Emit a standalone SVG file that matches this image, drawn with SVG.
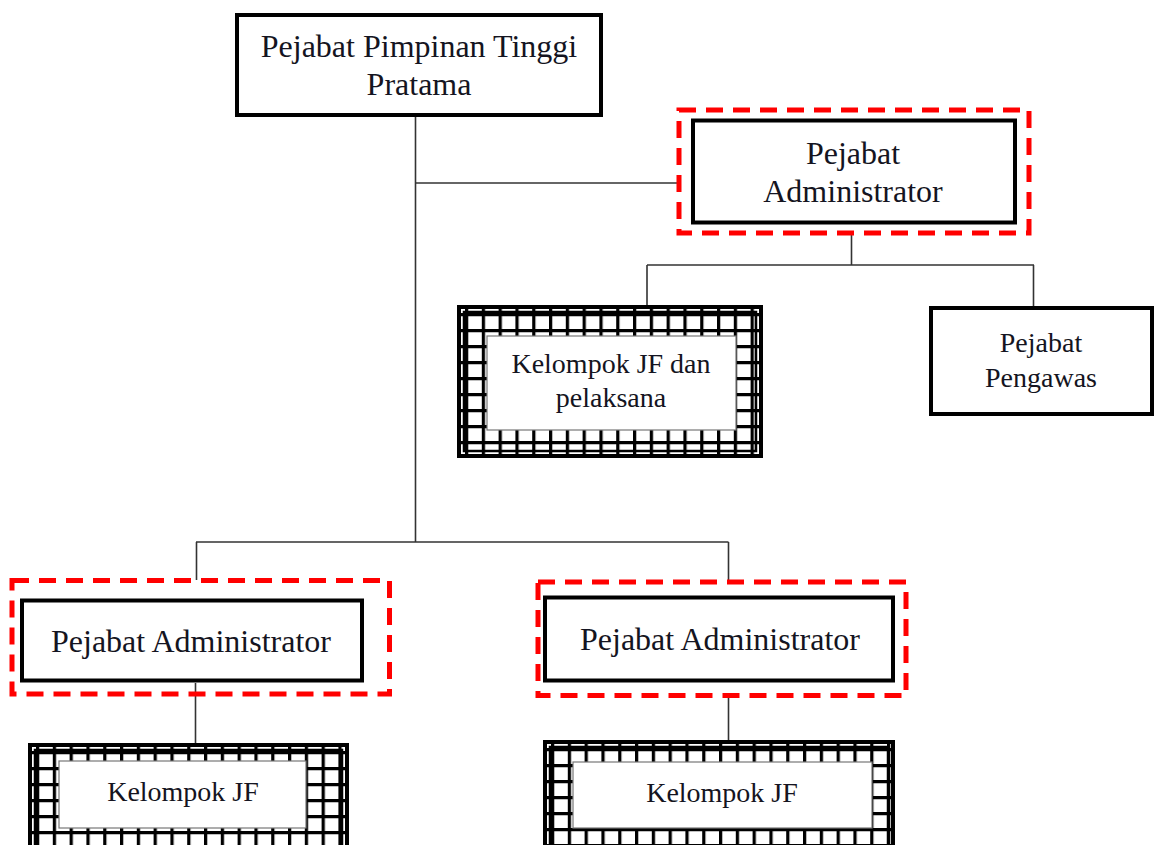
<svg xmlns="http://www.w3.org/2000/svg" width="1155" height="845" viewBox="0 0 1155 845">
<style>
.box{fill:#fff;stroke:#000;stroke-width:4}
.dash{fill:none;stroke:#ff0000;stroke-width:5;stroke-dasharray:17 10}
.conn{fill:none;stroke:#333;stroke-width:1.6}
.t{font-family:"Liberation Serif","Times New Roman",serif;fill:#141421;text-anchor:middle}
.big{font-size:32px}
.mid{font-size:28px}
.gridfill{fill:url(#grid);stroke:#000;stroke-width:4}
.gridin{fill:none;stroke:#000;stroke-width:2.5}
.white{fill:#fff;stroke:#777;stroke-width:1.2}
</style>
<defs>
<pattern id="grid" patternUnits="userSpaceOnUse" x="6" y="6" width="16.8" height="16" >
<rect width="16.8" height="16" fill="#fff"/>
<path d="M1.5 0V16M0 1.5H16.8" stroke="#000" stroke-width="3.5"/>
</pattern>
</defs>
<g id="connectors">
<path class="conn" d="M415.5 115V542"/>
<path class="conn" d="M415.5 183H677"/>
<path class="conn" d="M851.5 235V265M647 265H1034M647 265V306M1033.5 265V306"/>
<path class="conn" d="M196 542H728.5M196.5 542V580M728.5 542V582"/>
<path class="conn" d="M195.5 683V745"/>
<path class="conn" d="M728.5 696V740"/>
</g>
<g id="n_top">
<rect class="box" x="237" y="15" width="364" height="100"/>
<text class="t big" x="419" y="57">Pejabat Pimpinan Tinggi</text>
<text class="t big" x="419" y="95">Pratama</text>
</g>
<g id="n_admin_top">
<rect class="dash" x="679" y="110" width="350" height="123"/>
<rect class="box" x="693" y="120.5" width="322" height="102"/>
<text class="t big" x="853" y="164">Pejabat</text>
<text class="t big" x="853" y="202">Administrator</text>
</g>
<g id="n_jf_pelaksana" transform="translate(459,307)">
<rect class="gridfill" x="0" y="0" width="302" height="149"/>
<rect class="gridin" x="5" y="5" width="292" height="139"/>
<rect class="white" x="28" y="29" width="249" height="94"/>
<text class="t mid" x="152" y="66">Kelompok JF dan</text>
<text class="t mid" x="152" y="100">pelaksana</text>
</g>
<g id="n_pengawas">
<rect class="box" x="931" y="308" width="221" height="106"/>
<text class="t mid" x="1041" y="352">Pejabat</text>
<text class="t mid" x="1041" y="387">Pengawas</text>
</g>
<g id="n_admin_left">
<rect class="dash" x="12" y="580.5" width="377.5" height="113.5"/>
<rect class="box" x="22" y="600.5" width="340" height="80"/>
<text class="t big" x="191" y="652">Pejabat Administrator</text>
</g>
<g id="n_admin_right">
<rect class="dash" x="538" y="582" width="368" height="113.5"/>
<rect class="box" x="545" y="597.5" width="348" height="83"/>
<text class="t big" x="720" y="650">Pejabat Administrator</text>
</g>
<g id="n_jf_left" transform="translate(30,745)">
<rect class="gridfill" x="0" y="0" width="317" height="120"/>
<rect class="gridin" x="5" y="5" width="307" height="110"/>
<rect class="white" x="29" y="16" width="247" height="67"/>
<text class="t mid" x="153" y="56">Kelompok JF</text>
</g>
<g id="n_jf_right" transform="translate(545,742)">
<rect class="gridfill" x="0" y="0" width="348" height="120"/>
<rect class="gridin" x="5" y="5" width="338" height="110"/>
<rect class="white" x="28" y="20" width="299" height="66"/>
<text class="t mid" x="177" y="60">Kelompok JF</text>
</g>
</svg>
